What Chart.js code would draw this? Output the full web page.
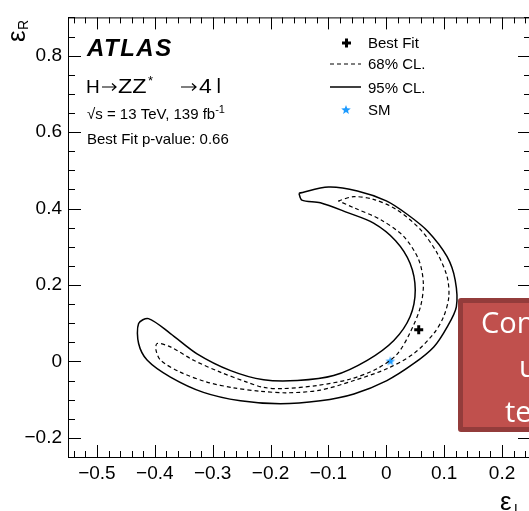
<!DOCTYPE html>
<html>
<head>
<meta charset="utf-8">
<script src="https://cdn.jsdelivr.net/npm/chart.js@4.4.1/dist/chart.umd.min.js"></script>
<style>
  html, body { margin: 0; padding: 0; overflow: hidden; background: #fff; }
  #wrap { position: relative; width: 545px; height: 511px; }
  #note {
    position: absolute; left: 458px; top: 298px; width: 160px; height: 134px;
    box-sizing: border-box; background: #c0504d; border: 5px solid #933c3b; border-radius: 3px;
    color: #fff; font: 29px "Open Sans", sans-serif; line-height: 45px; white-space: nowrap;
  }
  #note div { position: absolute; }
</style>
</head>
<body>
<div id="wrap">
  <canvas id="contour" width="545" height="511"></canvas>
  <div id="note">
    <div style="left:18px;top:-4px">Content</div>
    <div style="left:56px;top:40px">under</div>
    <div style="left:42px;top:85px">test</div>
  </div>
</div>
<script>
// axis ranges and tick labels
const xRange = [-0.55, 0.25];
const yRange = [-0.25, 0.9];
const xTicks = [-0.5, -0.4, -0.3, -0.2, -0.1, 0, 0.1, 0.2];
const yTicks = [-0.2, 0, 0.2, 0.4, 0.6, 0.8];

// 95% CL contour, closed
const cl95X = [-0.151, -0.100, -0.050, 0.000, 0.036, 0.072, 0.105, 0.119, 0.121, 0.105, 0.082, 0.047, 0.001, -0.056, -0.114, -0.183, -0.252, -0.316, -0.373, -0.413, -0.428, -0.428, -0.411, -0.373, -0.327, -0.269, -0.212, -0.154, -0.091, -0.033, 0.013, 0.041, 0.050, 0.041, 0.016, -0.022, -0.068, -0.114, -0.146, -0.151];
const cl95Y = [0.440, 0.456, 0.446, 0.420, 0.385, 0.340, 0.274, 0.213, 0.143, 0.090, 0.038, -0.006, -0.050, -0.085, -0.103, -0.111, -0.103, -0.081, -0.041, 0.003, 0.047, 0.099, 0.112, 0.073, 0.020, -0.024, -0.048, -0.050, -0.037, 0.003, 0.055, 0.117, 0.187, 0.257, 0.316, 0.362, 0.390, 0.415, 0.422, 0.440];

// 68% CL contour, closed
const cl68X = [-0.083, -0.056, -0.022, 0.018, 0.059, 0.088, 0.105, 0.108, 0.099, 0.082, 0.047, 0.001, -0.056, -0.114, -0.171, -0.218, -0.264, -0.310, -0.356, -0.390, -0.398, -0.396, -0.373, -0.333, -0.287, -0.241, -0.212, -0.178, -0.120, -0.062, -0.016, 0.018, 0.041, 0.059, 0.064, 0.056, 0.030, -0.010, -0.056, -0.083];
const cl68Y = [0.420, 0.431, 0.424, 0.397, 0.345, 0.283, 0.222, 0.169, 0.117, 0.073, 0.020, -0.019, -0.050, -0.075, -0.082, -0.078, -0.069, -0.054, -0.028, 0.003, 0.030, 0.047, 0.038, 0.003, -0.028, -0.054, -0.068, -0.071, -0.063, -0.046, -0.019, 0.018, 0.075, 0.143, 0.204, 0.266, 0.327, 0.371, 0.402, 0.420];

const bestFit = [0.056, 0.083];
const smPoint = [0.007, 0.0];

const FONT = '"Liberation Sans", Arial, sans-serif';
const SM_COLOR = '#1e9bff';

const zip = (xs, ys) => xs.map((x, i) => ({ x: x, y: ys[i] }));

// filled five point star for the SM marker
function makeStar(r) {
  const c = document.createElement('canvas');
  c.width = c.height = 2 * r + 2;
  const g = c.getContext('2d');
  g.fillStyle = SM_COLOR;
  g.beginPath();
  for (let i = 0; i < 10; i++) {
    const rr = i % 2 ? r * 0.42 : r;
    const a = -Math.PI / 2 + i * Math.PI / 5;
    g.lineTo(r + 1 + rr * Math.cos(a), r + 1 + rr * Math.sin(a));
  }
  g.closePath();
  g.fill();
  return c;
}
const star = makeStar(5);

const fmt = v => (v === 0 ? '0' : (v < 0 ? '\u2212' : '') + Math.abs(v).toFixed(1));

// text with an optional superscript piece, returns end x
function piece(ctx, txt, x, y, size, sup) {
  ctx.font = (sup ? Math.round(size * 0.7) : size) + 'px ' + FONT;
  ctx.fillText(txt, x, sup ? y - size * 0.4 : y);
  return x + ctx.measureText(txt).width;
}

// same, a bit stretched sideways (ROOT's Helvetica renders wider here)
function wide(ctx, txt, x, y, size, sx) {
  ctx.save();
  ctx.translate(x, y);
  ctx.scale(sx, 1);
  ctx.font = size + 'px ' + FONT;
  ctx.fillText(txt, 0, 0);
  ctx.restore();
}

// long thin arrow like ROOT's #rightarrow
function arrow(ctx, x, y, w) {
  ctx.save();
  ctx.lineWidth = 1.2;
  ctx.beginPath();
  ctx.moveTo(x, y); ctx.lineTo(x + w, y);
  ctx.moveTo(x + w - 4, y - 3.5); ctx.lineTo(x + w, y); ctx.lineTo(x + w - 4, y + 3.5);
  ctx.stroke();
  ctx.restore();
}

// ROOT style frame, inward ticks, labels and legend
const rootStyle = {
  id: 'rootStyle',
  afterDatasetsDraw(chart) {
    const { ctx, chartArea: a, scales: { x, y } } = chart;
    ctx.save();
    ctx.strokeStyle = '#000';
    ctx.lineWidth = 1;
    ctx.strokeRect(a.left + 0.5, a.top + 0.5, a.right - a.left, a.bottom - a.top);

    ctx.beginPath();
    for (let i = 0; i <= 40; i++) {
      const v = +(-0.54 + i * 0.02).toFixed(2);
      const major = Math.abs(v * 10 - Math.round(v * 10)) < 1e-6;
      const len = major ? 12 : 6;
      const px = Math.round(x.getPixelForValue(v)) + 0.5;
      ctx.moveTo(px, a.bottom); ctx.lineTo(px, a.bottom - len);
      ctx.moveTo(px, a.top); ctx.lineTo(px, a.top + len);
    }
    for (let i = 0; i <= 23; i++) {
      const v = +(-0.25 + i * 0.05).toFixed(2);
      const major = Math.abs(v * 5 - Math.round(v * 5)) < 1e-6;
      const len = major ? 13 : 7;
      const py = Math.round(y.getPixelForValue(v)) + 0.5;
      ctx.moveTo(a.left, py); ctx.lineTo(a.left + len, py);
      ctx.moveTo(a.right, py); ctx.lineTo(a.right - len, py);
    }
    ctx.stroke();

    // labels in the plot
    ctx.fillStyle = '#000';
    ctx.textBaseline = 'alphabetic';
    ctx.font = 'italic bold 24px ' + FONT;
    ctx.letterSpacing = '1.5px';
    ctx.fillText('ATLAS', 87, 56);
    ctx.letterSpacing = '0px';
    piece(ctx, 'H', 86, 93, 19);
    arrow(ctx, 102, 87, 14);
    wide(ctx, 'ZZ', 118, 93, 20, 1.17);
    piece(ctx, '*', 148, 93, 19, true);
    arrow(ctx, 181, 87, 15);
    wide(ctx, '4', 199, 93, 20, 1.15);
    piece(ctx, 'l', 216.5, 93, 20);
    const cx = piece(ctx, '\u221As = 13 TeV, 139 fb', 87, 119, 15);
    piece(ctx, '-1', cx, 119, 15, true);
    piece(ctx, 'Best Fit p-value: 0.66', 87, 144, 15);

    // legend
    ctx.font = '15px ' + FONT;
    ctx.fillText(chart.data.datasets[2].label, 368, 48);
    ctx.fillText(chart.data.datasets[1].label, 368, 69);
    ctx.fillText(chart.data.datasets[0].label, 368, 93);
    ctx.fillText(chart.data.datasets[3].label, 368, 115);
    ctx.lineWidth = 3;
    ctx.beginPath();
    ctx.moveTo(342, 43); ctx.lineTo(351, 43);
    ctx.moveTo(346.5, 38.5); ctx.lineTo(346.5, 47.5);
    ctx.stroke();
    ctx.lineWidth = 1.2;
    ctx.setLineDash([4, 3]);
    ctx.beginPath(); ctx.moveTo(330, 64); ctx.lineTo(361, 64); ctx.stroke();
    ctx.setLineDash([]);
    ctx.lineWidth = 1.5;
    ctx.beginPath(); ctx.moveTo(330, 87); ctx.lineTo(361, 87); ctx.stroke();
    ctx.drawImage(star, 346 - star.width / 2, 110 - star.height / 2);

    // axis titles
    ctx.save();
    ctx.translate(25, 42);
    ctx.rotate(-Math.PI / 2);
    ctx.font = '26px ' + FONT;
    ctx.fillText('\u03B5', 0, 0);
    ctx.font = '14px ' + FONT;
    ctx.fillText('R', 12, 3);
    ctx.restore();
    ctx.font = '26px ' + FONT;
    ctx.fillText('\u03B5', 500, 510);
    ctx.font = '14px ' + FONT;
    ctx.fillText('L', 514, 514);
    ctx.restore();
  }
};

const contourChart = new Chart(document.getElementById('contour').getContext('2d'), {
  type: 'scatter',
  data: {
    datasets: [{
      label: '95% CL.',
      data: zip(cl95X, cl95Y),
      showLine: true,
      borderColor: '#000',
      borderWidth: 1.5,
      pointRadius: 0,
      tension: 0.3
    }, {
      label: '68% CL.',
      data: zip(cl68X, cl68Y),
      showLine: true,
      borderColor: '#000',
      borderWidth: 1.2,
      borderDash: [4, 3],
      pointRadius: 0,
      tension: 0.3
    }, {
      label: 'Best Fit',
      data: [{ x: bestFit[0], y: bestFit[1] }],
      pointStyle: 'cross',
      pointRadius: 4.5,
      borderWidth: 3,
      borderColor: '#000'
    }, {
      label: 'SM',
      data: [{ x: smPoint[0], y: smPoint[1] }],
      pointStyle: star
    }]
  },
  options: {
    responsive: false,
    animation: false,
    layout: { padding: { top: 16, right: 14, left: 0, bottom: 0 } },
    plugins: { legend: { display: false }, tooltip: { enabled: false } },
    scales: {
      x: {
        type: 'linear', min: xRange[0], max: xRange[1],
        afterBuildTicks: s => { s.ticks = xTicks.map(v => ({ value: v })); },
        afterFit: s => { s.height = 54; },
        grid: { display: false, drawTicks: false },
        border: { display: false },
        ticks: { color: '#000', font: { family: FONT, size: 19 }, padding: 5, maxRotation: 0, autoSkip: false, callback: fmt }
      },
      y: {
        type: 'linear', min: yRange[0], max: yRange[1],
        afterBuildTicks: s => { s.ticks = yTicks.map(v => ({ value: v })); },
        afterFit: s => { s.width = 68; },
        grid: { display: false, drawTicks: false },
        border: { display: false },
        ticks: { color: '#000', font: { family: FONT, size: 19 }, padding: 6, autoSkip: false, callback: fmt }
      }
    }
  },
  plugins: [rootStyle]
});
</script>
</body>
</html>
